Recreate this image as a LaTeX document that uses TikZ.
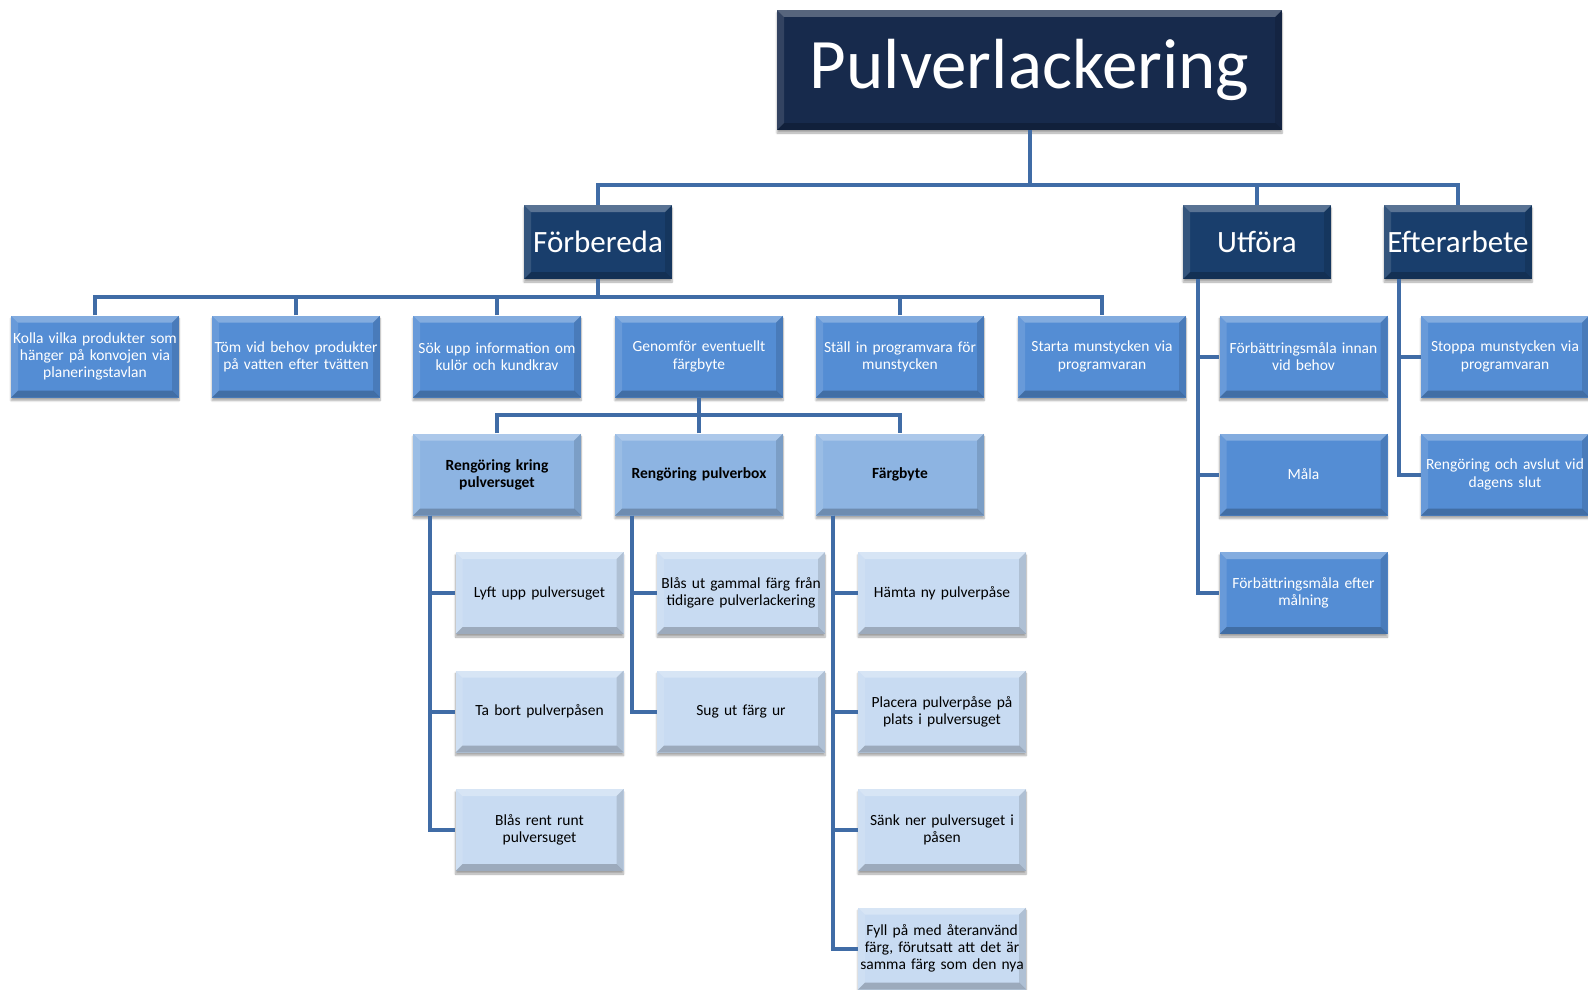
\documentclass[tikz,border=0pt]{standalone}
\usepackage{fontspec}
\setmainfont{Carlito}
\usetikzlibrary{positioning, shadows.blur}
\definecolor{pulnavy}{RGB}{23, 42, 76}
\definecolor{puldark}{RGB}{25, 62, 108}
\definecolor{pulmid}{RGB}{84, 141, 212}
\definecolor{pullight}{RGB}{141, 180, 226}
\definecolor{pulpale}{RGB}{200, 219, 242}
\definecolor{pulline}{RGB}{64, 108, 166}

\begin{document}
\begin{tikzpicture}[
    x=1pt, y=-1pt,
    bevel/.style={path picture={
      \fill[white, opacity=0.28] (path picture bounding box.north west) -- (path picture bounding box.north east)
        -- ([xshift=-7pt, yshift=-7pt]path picture bounding box.north east) -- ([xshift=7pt, yshift=-7pt]path picture bounding box.north west) -- cycle;
      \fill[white, opacity=0.12] (path picture bounding box.north west) -- (path picture bounding box.south west)
        -- ([xshift=7pt, yshift=7pt]path picture bounding box.south west) -- ([xshift=7pt, yshift=-7pt]path picture bounding box.north west) -- cycle;
      \fill[black, opacity=0.12] (path picture bounding box.north east) -- (path picture bounding box.south east)
        -- ([xshift=-7pt, yshift=7pt]path picture bounding box.south east) -- ([xshift=-7pt, yshift=-7pt]path picture bounding box.north east) -- cycle;
      \fill[black, opacity=0.22] (path picture bounding box.south west) -- (path picture bounding box.south east)
        -- ([xshift=-7pt, yshift=7pt]path picture bounding box.south east) -- ([xshift=7pt, yshift=7pt]path picture bounding box.south west) -- cycle;
    }},
    card/.style={bevel, inner sep=2pt, align=center,
      blur shadow={shadow xshift=0pt, shadow yshift=-3pt, shadow blur steps=6, shadow opacity=35}},
    titlebox/.style={card, fill=pulnavy, text=white, minimum width=505pt, minimum height=120pt,
      font=\fontsize{71}{80}\selectfont},
    phasebox/.style={card, fill=puldark, text=white, minimum width=148pt, minimum height=74pt,
      font=\fontsize{31}{36}\selectfont},
    taskbox/.style={card, fill=pulmid, text=white, minimum width=166pt, minimum height=82pt,
      text width=164pt, font=\fontsize{15.5}{17.2}\selectfont},
    subbox/.style={card, fill=pullight, text=black, minimum width=166pt, minimum height=82pt,
      text width=164pt, font=\bfseries\fontsize{15.5}{17.2}\selectfont},
    stepbox/.style={card, fill=pulpale, text=black, minimum width=166pt, minimum height=82pt,
      text width=164pt, font=\fontsize{15.5}{17.2}\selectfont},
    conn/.style={draw=pulline, line width=4pt},
  ]
  \useasboundingbox (0,0) rectangle (1588,990);

  % Bus points of the tree
  \coordinate (busA) at (1029.5,185);
  \coordinate (busB) at (598,297);
  \coordinate (busC) at (699,415);

  % Title and phases
  \node[titlebox] (root) at (1029.5,70) {Pulverlackering};
  \node[phasebox] (forb) at (598,242) {Förbereda};
  \node[phasebox] (utf) at (1257,242) {Utföra};
  \node[phasebox] (eft) at (1458,242) {Efterarbete};

  % Förbereda tasks
  \node[taskbox] (k1) at (95,356.5) {Kolla vilka produkter som\\hänger på konvojen via\\planeringstavlan};
  \node[taskbox] (k2) at (296,356.5) {Töm vid behov produkter\\på vatten efter tvätten};
  \node[taskbox] (k3) at (497,356.5) {Sök upp information om\\kulör och kundkrav};
  \node[taskbox] (k4) at (699,356.5) {Genomför eventuellt\\färgbyte};
  \node[taskbox] (k5) at (900,356.5) {Ställ in programvara för\\munstycken};
  \node[taskbox] (k6) at (1102,356.5) {Starta munstycken via\\programvaran};

  % Utföra and Efterarbete tasks
  \node[taskbox] (u1) at (1303.5,356.5) {Förbättringsmåla innan\\vid behov};
  \node[taskbox] (u2) at (1303.5,474.5) {Måla};
  \node[taskbox] (u3) at (1303.5,593) {Förbättringsmåla efter\\målning};
  \node[taskbox] (e1) at (1505,356.5) {Stoppa munstycken via\\programvaran};
  \node[taskbox] (e2) at (1505,474.5) {Rengöring och avslut vid\\dagens slut};

  % Färgbyte sub-steps
  \node[subbox] (r1) at (497,474.5) {Rengöring kring\\pulversuget};
  \node[subbox] (r2) at (699,474.5) {Rengöring pulverbox};
  \node[subbox] (r3) at (900,474.5) {Färgbyte};

  \node[stepbox] (s11) at (539.5,593) {Lyft upp pulversuget};
  \node[stepbox] (s12) at (539.5,711.5) {Ta bort pulverpåsen};
  \node[stepbox] (s13) at (539.5,830) {Blås rent runt\\pulversuget};
  \node[stepbox] (s21) at (741,593) {Blås ut gammal färg från\\tidigare pulverlackering};
  \node[stepbox] (s22) at (741,711.5) {Sug ut färg ur};
  \node[stepbox] (s31) at (942,593) {Hämta ny pulverpåse};
  \node[stepbox] (s32) at (942,711.5) {Placera pulverpåse på\\plats i pulversuget};
  \node[stepbox] (s33) at (942,830) {Sänk ner pulversuget i\\påsen};
  \node[stepbox] (s34) at (942,948.5) {Fyll på med återanvänd\\färg, förutsatt att det är\\samma färg som den nya};

  % Tree lines
  \draw[conn] (root.south) -- (busA);
  \draw[conn] (forb.north) |- (busA) -| (eft.north);
  \draw[conn] (utf.north) -- (utf.north |- busA);

  \draw[conn] (forb.south) -- (busB);
  \draw[conn] (k1.north) |- (busB) -| (k6.north);
  \draw[conn] (k2.north) -- (k2.north |- busB);
  \draw[conn] (k3.north) -- (k3.north |- busB);
  \draw[conn] (k5.north) -- (k5.north |- busB);

  \draw[conn] (k4.south) -- (busC);
  \draw[conn] (r1.north) |- (busC) -| (r3.north);
  \draw[conn] (r2.north) -- (r2.north |- busC);

  \draw[conn] ([xshift=15pt]utf.south west) |- (u1.west);
  \draw[conn] ([xshift=15pt]utf.south west) |- (u2.west);
  \draw[conn] ([xshift=15pt]utf.south west) |- (u3.west);
  \draw[conn] ([xshift=15pt]eft.south west) |- (e1.west);
  \draw[conn] ([xshift=15pt]eft.south west) |- (e2.west);

  \draw[conn] ([xshift=17pt]r1.south west) |- (s11.west);
  \draw[conn] ([xshift=17pt]r1.south west) |- (s12.west);
  \draw[conn] ([xshift=17pt]r1.south west) |- (s13.west);
  \draw[conn] ([xshift=17pt]r2.south west) |- (s21.west);
  \draw[conn] ([xshift=17pt]r2.south west) |- (s22.west);
  \draw[conn] ([xshift=17pt]r3.south west) |- (s31.west);
  \draw[conn] ([xshift=17pt]r3.south west) |- (s32.west);
  \draw[conn] ([xshift=17pt]r3.south west) |- (s33.west);
  \draw[conn] ([xshift=17pt]r3.south west) |- (s34.west);
\end{tikzpicture}
\end{document}
